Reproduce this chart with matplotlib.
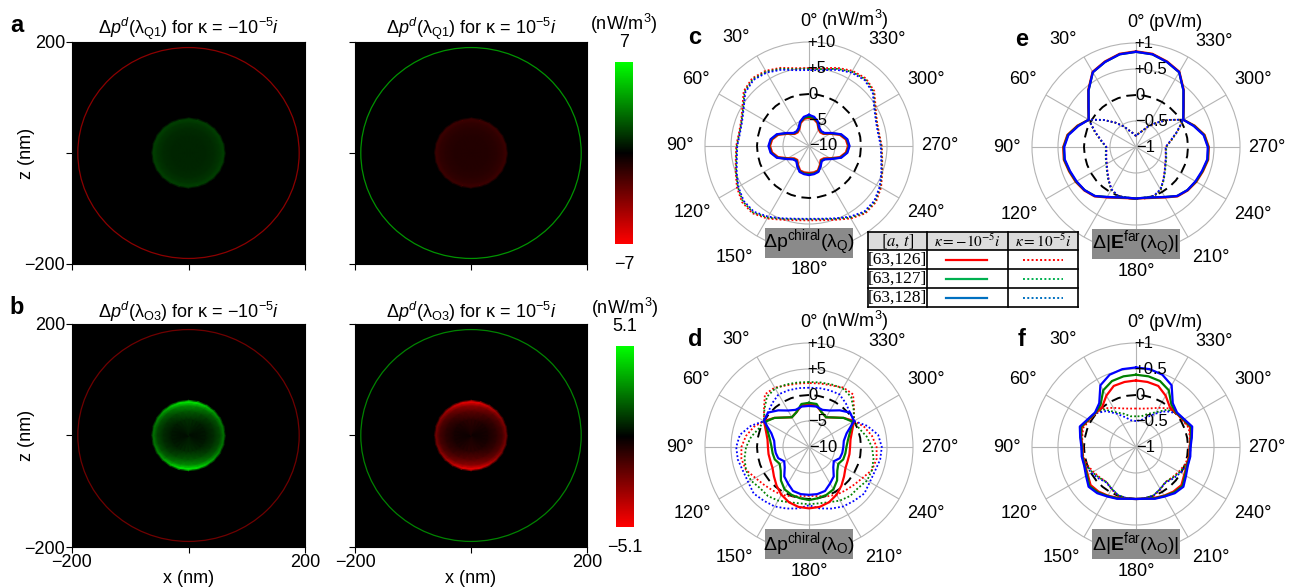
import numpy as np
import matplotlib
matplotlib.use('Agg')
import matplotlib.pyplot as plt
from matplotlib.colors import LinearSegmentedColormap, Normalize
from matplotlib.cm import ScalarMappable
from matplotlib.patches import Circle, Rectangle

plt.rcParams['font.family'] = ['Liberation Sans', 'DejaVu Sans']
plt.rcParams['mathtext.fontset'] = 'custom'
plt.rcParams['mathtext.rm'] = 'Liberation Sans'
plt.rcParams['mathtext.it'] = 'Liberation Sans:italic'
plt.rcParams['mathtext.bf'] = 'Liberation Sans:bold'

W, H = 1289, 587

# ---------------- data: near-field maps (a, b) ----------------
ring_r = 190
core_r = [0, 30, 45, 55, 60, 62, 64]
core_th = [0, 15, 30, 45, 60, 75, 90, 105, 120, 135, 150, 165, 180,
           195, 210, 225, 240, 255, 270, 285, 300, 315, 330, 345, 360]
a_core_radial = [0.55, 0.6, 0.7, 0.85, 1.0, 0.9, 0.0]
b_core_radial = [0.08, 0.2, 0.4, 0.65, 1.0, 0.9, 0.0]
a_left_core = [1.7, 1.7, 1.7, 1.7, 1.7, 1.7, 1.7, 1.7, 1.7, 1.7, 1.7, 1.7, 1.7,
               1.7, 1.7, 1.7, 1.7, 1.7, 1.7, 1.7, 1.7, 1.7, 1.7, 1.7, 1.7]
a_right_core = [-1.6, -1.6, -1.6, -1.6, -1.6, -1.6, -1.6, -1.6, -1.6, -1.6, -1.6, -1.6, -1.6,
                -1.6, -1.6, -1.6, -1.6, -1.6, -1.6, -1.6, -1.6, -1.6, -1.6, -1.6, -1.6]
b_left_core = [4.6, 4.4, 3.8, 3.1, 2.6, 2.3, 2.2, 2.3, 2.6, 3.1, 3.8, 4.4, 4.6,
               4.4, 3.8, 3.1, 2.6, 2.3, 2.2, 2.3, 2.6, 3.1, 3.8, 4.4, 4.6]
b_right_core = [-4.6, -4.4, -3.8, -3.1, -2.6, -2.3, -2.2, -2.3, -2.6, -3.1, -3.8, -4.4, -4.6,
                -4.4, -3.8, -3.1, -2.6, -2.3, -2.2, -2.3, -2.6, -3.1, -3.8, -4.4, -4.6]
a_left_ring, a_right_ring = -3.8, 4.0
b_left_ring, b_right_ring = -2.2, 2.6
a_vmax, b_vmax = 7, 5.1

# ---------------- data: polar patterns (c-f), 0..180 deg, mirrored ----------------
ang_half = [0, 10, 20, 30, 40, 50, 60, 70, 80, 90, 100, 110, 120, 130, 140, 150, 160, 170, 180]

c_neg_red = [-4.5, -4.7, -5.3, -6.3, -6.6, -6.4, -5.3, -3.7, -2.8, -2.5, -2.8, -3.7, -5.3, -6.3, -6.5, -5.8, -5.0, -4.8, -4.8]
c_neg_green = [-4.3, -4.5, -5.1, -6.1, -6.4, -6.2, -5.1, -3.5, -2.6, -2.3, -2.6, -3.5, -5.1, -6.1, -6.3, -5.6, -4.8, -4.6, -4.6]
c_neg_blue = [-4.0, -4.3, -5.0, -6.0, -6.3, -6.1, -5.0, -3.4, -2.5, -2.2, -2.5, -3.4, -5.0, -6.0, -6.2, -5.5, -4.7, -4.5, -4.4]
c_pos_red = [5.0, 5.2, 6.0, 6.7, 7.0, 6.4, 4.8, 3.9, 3.7, 4.0, 4.3, 5.0, 6.0, 6.8, 6.9, 6.1, 5.1, 4.5, 4.3]
c_pos_green = [4.8, 5.0, 5.8, 6.5, 6.8, 6.2, 4.6, 3.8, 3.6, 3.9, 4.2, 4.9, 5.8, 6.6, 6.7, 5.9, 4.9, 4.3, 4.1]
c_pos_blue = [4.6, 4.8, 5.6, 6.3, 6.6, 6.0, 4.5, 3.7, 3.5, 3.8, 4.1, 4.8, 5.7, 6.4, 6.5, 5.7, 4.8, 4.2, 4.0]

d_neg_red = [-1.8, -1.9, -2.9, -3.4, -2.6, -1.3, 0.0, -1.2, -1.9, -2.1, -2.1, -2.1, -1.9, -1.2, -0.3, 0.6, 1.3, 1.7, 1.8]
d_neg_green = [-1.5, -1.6, -2.9, -3.4, -2.6, -1.3, -0.3, -1.6, -2.4, -2.8, -2.9, -3.0, -3.5, -2.9, -1.6, -0.6, -0.2, 0.0, 0.2]
d_neg_blue = [-2.1, -2.1, -2.4, -1.9, -0.8, 0.3, 0.0, -2.3, -3.2, -3.4, -3.5, -3.7, -4.5, -3.9, -2.6, -1.9, -1.0, -0.8, -0.8]
d_pos_red = [2.3, 2.4, 2.6, 3.2, 3.2, 1.3, 0.0, 1.3, 2.3, 3.0, 3.2, 2.9, 1.9, 1.3, 0.9, 0.6, 0.1, -0.4, -0.6]
d_pos_green = [2.5, 2.6, 2.8, 3.0, 2.6, 1.2, 0.0, 0.3, 1.3, 2.1, 2.6, 2.9, 2.9, 2.3, 2.3, 1.9, 1.3, 1.0, 1.0]
d_pos_blue = [1.4, 1.5, 1.6, 1.7, 1.0, 0.3, 0.0, 1.9, 3.5, 4.0, 3.9, 3.5, 3.5, 3.9, 3.5, 3.2, 2.6, 2.0, 1.2]

e_neg_red = [0.84, 0.82, 0.75, 0.67, 0.43, 0.20, 0.05, 0.20, 0.34, 0.40, 0.41, 0.37, 0.34, 0.30, 0.24, 0.12, 0.04, 0.0, -0.01]
e_neg_green = [0.83, 0.81, 0.74, 0.66, 0.42, 0.19, 0.05, 0.19, 0.33, 0.39, 0.40, 0.36, 0.33, 0.29, 0.23, 0.11, 0.03, -0.01, -0.01]
e_neg_blue = [0.83, 0.81, 0.74, 0.66, 0.42, 0.19, 0.05, 0.18, 0.32, 0.38, 0.39, 0.35, 0.32, 0.29, 0.23, 0.11, 0.03, -0.01, -0.01]
e_pos_red = [-0.79, -0.74, -0.68, -0.55, -0.39, -0.19, 0.05, -0.16, -0.32, -0.43, -0.42, -0.39, -0.35, -0.28, -0.18, -0.05, 0.01, -0.01, -0.01]
e_pos_green = [-0.79, -0.74, -0.68, -0.55, -0.39, -0.19, 0.05, -0.16, -0.32, -0.42, -0.41, -0.38, -0.34, -0.27, -0.17, -0.05, 0.01, -0.01, -0.01]
e_pos_blue = [-0.79, -0.74, -0.68, -0.55, -0.39, -0.19, 0.05, -0.17, -0.33, -0.43, -0.42, -0.39, -0.35, -0.28, -0.18, -0.06, 0.0, -0.01, -0.01]

f_neg_red = [0.28, 0.27, 0.25, 0.14, 0.01, 0.01, 0.05, 0.11, 0.07, 0.03, 0.04, 0.04, 0.07, 0.14, 0.12, 0.08, 0.04, 0.01, 0.0]
f_neg_green = [0.39, 0.38, 0.35, 0.26, 0.06, 0.02, 0.06, 0.13, 0.08, 0.04, 0.05, 0.05, 0.09, 0.17, 0.14, 0.09, 0.05, 0.01, 0.0]
f_neg_blue = [0.53, 0.52, 0.48, 0.37, 0.10, 0.03, 0.07, 0.15, 0.09, 0.05, 0.06, 0.06, 0.11, 0.19, 0.16, 0.10, 0.06, 0.01, 0.0]
f_pos_red = [-0.26, -0.25, -0.21, -0.13, -0.03, 0.01, 0.03, 0.08, 0.05, 0.03, 0.03, 0.0, -0.05, -0.09, -0.12, -0.06, 0.0, 0.0, 0.0]
f_pos_green = [-0.41, -0.40, -0.32, -0.23, -0.06, 0.01, 0.04, 0.10, 0.06, 0.04, 0.04, 0.02, -0.03, -0.08, -0.12, -0.07, -0.01, 0.0, 0.0]
f_pos_blue = [-0.50, -0.48, -0.39, -0.26, -0.10, 0.01, 0.05, 0.12, 0.08, 0.05, 0.05, 0.04, -0.01, -0.06, -0.11, -0.07, -0.01, 0.0, 0.0]

table_rows = ['[63,126]', '[63,127]', '[63,128]']
plot_colors = ['#ff0000', '#008000', '#0000ff']
table_colors = ['#ff0000', '#00b050', '#0070c0']

cmap = LinearSegmentedColormap.from_list('rkg', ['#ff0000', '#000000', '#00ff00'])

fig = plt.figure(figsize=(W / 100, H / 100), dpi=100)


def px(x0, y0, w, h):
    return [x0 / W, 1 - (y0 + h) / H, w / W, h / H]


def heat(rect, vmax, radial, core, ring_val, title, ylab, xlab):
    ax = fig.add_axes(rect)
    ax.set_facecolor('black')
    norm = Normalize(-vmax, vmax)
    R, T = np.meshgrid(core_r, np.deg2rad(core_th), indexing='ij')
    C = np.outer(radial, core)
    ax.pcolormesh(R * np.sin(T), R * np.cos(T), C, cmap=cmap, norm=norm, shading='gouraud')
    ax.add_patch(Circle((0, 0), ring_r, fill=False, lw=0.9, edgecolor=cmap(norm(ring_val))))
    ax.set_xlim(-200, 200)
    ax.set_ylim(-200, 200)
    ax.set_xticks([-200, 0, 200])
    ax.set_yticks([-200, 0, 200])
    ax.set_yticklabels(['\u2212200', '', '200'] if ylab else [])
    ax.set_xticklabels(['\u2212200', '', '200'] if xlab else [])
    ax.tick_params(direction='out', length=4, labelsize=13, pad=1)
    ax.set_title(title, fontsize=13, pad=2)
    if ylab:
        ax.set_ylabel('z (nm)', fontsize=13, labelpad=-8)
    if xlab:
        ax.set_xlabel('x (nm)', fontsize=13, labelpad=-1)
    return ax


def cbar(rect, vmax, top, bot):
    cax = fig.add_axes(rect)
    cb = fig.colorbar(ScalarMappable(Normalize(-vmax, vmax), cmap), cax=cax, ticks=[])
    cb.outline.set_visible(False)
    cax.text(0.5, 1.21, '(nW/m$^3$)', transform=cax.transAxes, ha='center', va='center', fontsize=13)
    cax.text(0.5, 1.105, top, transform=cax.transAxes, ha='center', va='center', fontsize=13)
    cax.text(0.5, -0.115, bot, transform=cax.transAxes, ha='center', va='center', fontsize=13)


tq = 'Δ$p^d$(λ$_{\\mathrm{Q1}}$) for κ = '
to = 'Δ$p^d$(λ$_{\\mathrm{O3}}$) for κ = '
heat(px(72, 42, 233, 222), a_vmax, a_core_radial, a_left_core, a_left_ring, tq + '\u221210$^{-5}i$', True, False)
heat(px(355, 42, 232, 222), a_vmax, a_core_radial, a_right_core, a_right_ring, tq + '10$^{-5}i$', False, False)
heat(px(72, 324, 233, 223), b_vmax, b_core_radial, b_left_core, b_left_ring, to + '\u221210$^{-5}i$', True, True)
heat(px(355, 324, 232, 223), b_vmax, b_core_radial, b_right_core, b_right_ring, to + '10$^{-5}i$', False, True)
cbar(px(615, 62, 18, 182), a_vmax, '7', '\u22127')
cbar(px(616, 346, 18, 181), b_vmax, '5.1', '\u22125.1')


def full(vals):
    return np.array(vals + vals[-2::-1])


theta = np.deg2rad(ang_half + [360 - a for a in ang_half[-2::-1]])

# angle-label offsets from the polar centre, in pixels (x right, y down)
lab_off = {30: (-73, -108), 60: (-113, -67), 90: (-129, 0), 120: (-117, 67),
           150: (-75, 111), 180: (0, 124), 210: (75, 111), 240: (117, 67),
           270: (131, 0), 300: (117, -67), 330: (78, -106)}


def polar(cx, cy, neg, pos, lim, rlabs, unit, box, letter, hidden):
    ax = fig.add_axes(px(cx - 104, cy - 104, 208, 208), projection='polar')
    ax.set_theta_zero_location('N')
    ax.set_theta_direction(1)
    ax.set_ylim(-lim, lim)
    ax.set_yticks([-lim / 2, lim / 2])
    ax.set_yticklabels([])
    angs = list(range(0, 360, 30))
    ax.set_thetagrids(angs, [''] * len(angs))
    ax.grid(color='#b4b4b4', lw=0.8)
    ax.spines['polar'].set_color('#b4b4b4')
    ax.spines['polar'].set_linewidth(0.8)
    ax.plot(theta, np.zeros(len(theta)), color='k', lw=1.4, dashes=(5, 3), zorder=2)
    for vals, col in zip(pos, plot_colors):
        ax.plot(theta, full(vals), color=col, lw=1.3, ls=(0, (1, 1.2)), zorder=3)
    for vals, col in zip(neg, plot_colors):
        ax.plot(theta, full(vals), color=col, lw=1.6, zorder=4)
    for v, s in zip([lim, lim / 2, 0, -lim / 2, -lim], rlabs):
        ax.text(0.02 if v > -lim else 0, v, s, ha='left', va='center', fontsize=12, zorder=5)
    # angle labels
    ax.text(0.5, 1.075, '0°', transform=ax.transAxes, ha='center', va='baseline', fontsize=13)
    ax.text(0.56, 1.075, unit, transform=ax.transAxes, ha='left', va='baseline', fontsize=13)
    for a, (dx, dy) in lab_off.items():
        if a == hidden:
            continue
        fig.text((cx + dx) / W, 1 - (cy + dy) / H, f'{a}°', ha='center', va='center', fontsize=13)
    ax.add_patch(Rectangle((0.29, -0.04), 0.42, 0.145, transform=ax.transAxes,
                           facecolor='#8a8a8a', edgecolor='none', zorder=6, clip_on=False))
    ax.text(0.5, 0.035, box, transform=ax.transAxes, ha='center', va='center', fontsize=14, zorder=7)
    fig.text((cx - 114) / W, 1 - (cy - 108) / H, letter, ha='center', va='center',
             fontsize=17, fontweight='bold')


rl_p = ['+10', '+5', '0', '\u22125', '\u221210']
rl_e = ['+1', '+0.5', '0', '\u22120.5', '\u22121']
# 210 deg in c and 150 deg in e sit under the legend table in the figure
polar(809, 146, [c_neg_red, c_neg_green, c_neg_blue], [c_pos_red, c_pos_green, c_pos_blue],
      10, rl_p, '(nW/m$^3$)', 'Δp$^{\\mathrm{chiral}}$(λ$_{\\mathrm{Q}}$)', 'c', 210)
polar(809, 447, [d_neg_red, d_neg_green, d_neg_blue], [d_pos_red, d_pos_green, d_pos_blue],
      10, rl_p, '(nW/m$^3$)', 'Δp$^{\\mathrm{chiral}}$(λ$_{\\mathrm{O}}$)', 'd', None)
polar(1136, 147, [e_neg_red, e_neg_green, e_neg_blue], [e_pos_red, e_pos_green, e_pos_blue],
      1, rl_e, '(pV/m)', 'Δ|$\\mathbf{E}^{\\mathrm{far}}$(λ$_{\\mathrm{Q}}$)|', 'e', 150)
polar(1136, 447, [f_neg_red, f_neg_green, f_neg_blue], [f_pos_red, f_pos_green, f_pos_blue],
      1, rl_e, '(pV/m)', 'Δ|$\\mathbf{E}^{\\mathrm{far}}$(λ$_{\\mathrm{O}}$)|', 'f', None)

# panel letters a, b
fig.text(17 / W, 1 - 25 / H, 'a', ha='center', va='center', fontsize=17, fontweight='bold')
fig.text(17 / W, 1 - 307 / H, 'b', ha='center', va='center', fontsize=17, fontweight='bold')

# legend table
tab = fig.add_axes(px(868, 232, 210, 75))
tab.set_xlim(0, 210)
tab.set_ylim(75, 0)
tab.axis('off')
tab.add_patch(Rectangle((0, 0), 210, 75, facecolor='white', edgecolor='none'))
tab.add_patch(Rectangle((0, 0), 210, 18, facecolor='#dcdcdc', edgecolor='none'))
for x in [0, 59, 140, 210]:
    tab.plot([x, x], [0, 75], color='k', lw=1.2, clip_on=False)
for y in [0, 18, 37, 56, 75]:
    tab.plot([0, 210], [y, y], color='k', lw=1.2, clip_on=False)
tab.text(29.5, 9.5, '$[a,\\, t]$', ha='center', va='center', fontsize=12, math_fontfamily='stix')
tab.text(99.5, 9.5, '$\\kappa = -10^{-5}i$', ha='center', va='center', fontsize=11, math_fontfamily='stix')
tab.text(175, 9.5, '$\\kappa = 10^{-5}i$', ha='center', va='center', fontsize=11, math_fontfamily='stix')
for i, (lab, col) in enumerate(zip(table_rows, table_colors)):
    yc = 27.5 + 19 * i
    tab.text(29.5, yc, lab, ha='center', va='center', fontsize=12.5, family='Liberation Serif')
    tab.plot([78, 119], [yc, yc], color=col, lw=1.6)
    tab.plot([155, 195], [yc, yc], color=col, lw=1.4, ls=(0, (1, 1.2)))

fig.savefig('out.png', dpi=100)
